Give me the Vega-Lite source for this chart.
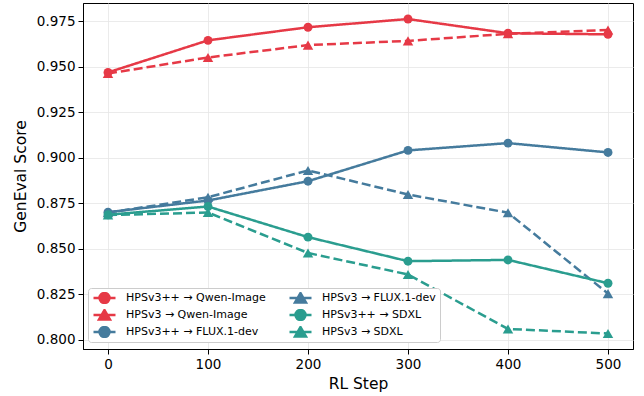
{
  "$schema": "https://vega.github.io/schema/vega-lite/v6.json",
  "width": 550,
  "height": 346,
  "autosize": {"type": "none"},
  "padding": {"left": 83, "top": 3, "right": 11, "bottom": 47},
  "background": "white",
  "config": {
    "font": "DejaVu Sans",
    "view": {"stroke": "black", "strokeWidth": 1},
    "axis": {
      "domainColor": "black",
      "domainWidth": 1,
      "tickColor": "black",
      "tickSize": 5,
      "tickWidth": 1,
      "labelFont": "DejaVu Sans",
      "labelFontSize": 13.5,
      "labelColor": "black",
      "labelPadding": 3,
      "titleFont": "DejaVu Sans",
      "titleFontSize": 15.5,
      "titleFontWeight": "normal",
      "titleColor": "black",
      "gridColor": "#e6e6e6",
      "gridWidth": 0.8
    }
  },
  "data": {
    "values": [
      {"series": "HPSv3++ → Qwen-Image", "marker": "circle", "step": 0, "score": 0.9468},
      {"series": "HPSv3++ → Qwen-Image", "marker": "circle", "step": 100, "score": 0.9644},
      {"series": "HPSv3++ → Qwen-Image", "marker": "circle", "step": 200, "score": 0.9716},
      {"series": "HPSv3++ → Qwen-Image", "marker": "circle", "step": 300, "score": 0.9761},
      {"series": "HPSv3++ → Qwen-Image", "marker": "circle", "step": 400, "score": 0.9683},
      {"series": "HPSv3++ → Qwen-Image", "marker": "circle", "step": 500, "score": 0.9677},
      {"series": "HPSv3 → Qwen-Image", "marker": "triangle", "step": 0, "score": 0.9462},
      {"series": "HPSv3 → Qwen-Image", "marker": "triangle", "step": 100, "score": 0.9550},
      {"series": "HPSv3 → Qwen-Image", "marker": "triangle", "step": 200, "score": 0.9618},
      {"series": "HPSv3 → Qwen-Image", "marker": "triangle", "step": 300, "score": 0.9641},
      {"series": "HPSv3 → Qwen-Image", "marker": "triangle", "step": 400, "score": 0.9680},
      {"series": "HPSv3 → Qwen-Image", "marker": "triangle", "step": 500, "score": 0.9701},
      {"series": "HPSv3++ → FLUX.1-dev", "marker": "circle", "step": 0, "score": 0.8701},
      {"series": "HPSv3++ → FLUX.1-dev", "marker": "circle", "step": 100, "score": 0.8765},
      {"series": "HPSv3++ → FLUX.1-dev", "marker": "circle", "step": 200, "score": 0.8871},
      {"series": "HPSv3++ → FLUX.1-dev", "marker": "circle", "step": 300, "score": 0.9040},
      {"series": "HPSv3++ → FLUX.1-dev", "marker": "circle", "step": 400, "score": 0.9080},
      {"series": "HPSv3++ → FLUX.1-dev", "marker": "circle", "step": 500, "score": 0.9029},
      {"series": "HPSv3 → FLUX.1-dev", "marker": "triangle", "step": 0, "score": 0.8698},
      {"series": "HPSv3 → FLUX.1-dev", "marker": "triangle", "step": 100, "score": 0.8783},
      {"series": "HPSv3 → FLUX.1-dev", "marker": "triangle", "step": 200, "score": 0.8930},
      {"series": "HPSv3 → FLUX.1-dev", "marker": "triangle", "step": 300, "score": 0.8798},
      {"series": "HPSv3 → FLUX.1-dev", "marker": "triangle", "step": 400, "score": 0.8698},
      {"series": "HPSv3 → FLUX.1-dev", "marker": "triangle", "step": 500, "score": 0.8254},
      {"series": "HPSv3++ → SDXL", "marker": "circle", "step": 0, "score": 0.8687},
      {"series": "HPSv3++ → SDXL", "marker": "circle", "step": 100, "score": 0.8732},
      {"series": "HPSv3++ → SDXL", "marker": "circle", "step": 200, "score": 0.8564},
      {"series": "HPSv3++ → SDXL", "marker": "circle", "step": 300, "score": 0.8432},
      {"series": "HPSv3++ → SDXL", "marker": "circle", "step": 400, "score": 0.8439},
      {"series": "HPSv3++ → SDXL", "marker": "circle", "step": 500, "score": 0.8311},
      {"series": "HPSv3 → SDXL", "marker": "triangle", "step": 0, "score": 0.8685},
      {"series": "HPSv3 → SDXL", "marker": "triangle", "step": 100, "score": 0.8699},
      {"series": "HPSv3 → SDXL", "marker": "triangle", "step": 200, "score": 0.8477},
      {"series": "HPSv3 → SDXL", "marker": "triangle", "step": 300, "score": 0.8359},
      {"series": "HPSv3 → SDXL", "marker": "triangle", "step": 400, "score": 0.8060},
      {"series": "HPSv3 → SDXL", "marker": "triangle", "step": 500, "score": 0.8035}
    ]
  },
  "encoding": {
    "x": {
      "field": "step",
      "type": "quantitative",
      "title": "RL Step",
      "scale": {"domain": [-25, 525], "nice": false, "zero": false},
      "axis": {"values": [0, 100, 200, 300, 400, 500], "format": "d", "titlePadding": 6}
    },
    "y": {
      "field": "score",
      "type": "quantitative",
      "title": "GenEval Score",
      "scale": {"domain": [0.795, 0.9849], "nice": false, "zero": false},
      "axis": {"values": [0.8, 0.825, 0.85, 0.875, 0.9, 0.925, 0.95, 0.975], "format": ".3f", "titlePadding": 8}
    },
    "color": {
      "field": "series",
      "type": "nominal",
      "scale": {
        "domain": ["HPSv3++ → Qwen-Image", "HPSv3 → Qwen-Image", "HPSv3++ → FLUX.1-dev", "HPSv3 → FLUX.1-dev", "HPSv3++ → SDXL", "HPSv3 → SDXL"],
        "range": ["#e63946", "#e63946", "#457b9d", "#457b9d", "#2a9d8f", "#2a9d8f"]
      },
      "legend": {
        "title": null,
        "orient": "none",
        "legendX": 5,
        "legendY": 285,
        "columns": 2,
        "fillColor": "white",
        "strokeColor": "#cccccc",
        "cornerRadius": 3,
        "padding": 4,
        "labelFont": "DejaVu Sans",
        "labelFontSize": 11,
        "labelColor": "black",
        "symbolSize": 484,
        "symbolStrokeWidth": 2.5,
        "labelOffset": 9,
        "rowPadding": 5,
        "columnPadding": 22,
        "clipHeight": 12,
        "encode": {
          "symbols": {
            "update": {
              "shape": {"signal": "indexof(datum.value, '++') >= 0 ? 'M-1,0L1,0M0.45,0A0.45,0.45,0,1,1,-0.45,0A0.45,0.45,0,1,1,0.45,0Z' : 'M-1,0L1,0M0,-0.45L0.5,0.42L-0.5,0.42Z'"},
              "fill": {"scale": "color", "field": "value"},
              "stroke": {"scale": "color", "field": "value"},
              "strokeWidth": {"value": 2.5},
              "opacity": {"value": 1}
            }
          }
        }
      }
    }
  },
  "layer": [
    {
      "mark": {"type": "line", "strokeWidth": 2.5},
      "encoding": {
        "strokeDash": {
          "field": "marker",
          "type": "nominal",
          "scale": {"domain": ["circle", "triangle"], "range": [[1, 0], [9, 4]]},
          "legend": null
        },
        "detail": {"field": "series", "type": "nominal"}
      }
    },
    {
      "mark": {"type": "point", "filled": true, "opacity": 1},
      "encoding": {
        "shape": {
          "field": "marker",
          "type": "nominal",
          "scale": {"domain": ["circle", "triangle"], "range": ["circle", "triangle-up"]},
          "legend": null
        },
        "size": {
          "field": "marker",
          "type": "nominal",
          "scale": {"domain": ["circle", "triangle"], "range": [80, 110]},
          "legend": null
        }
      }
    }
  ]
}
